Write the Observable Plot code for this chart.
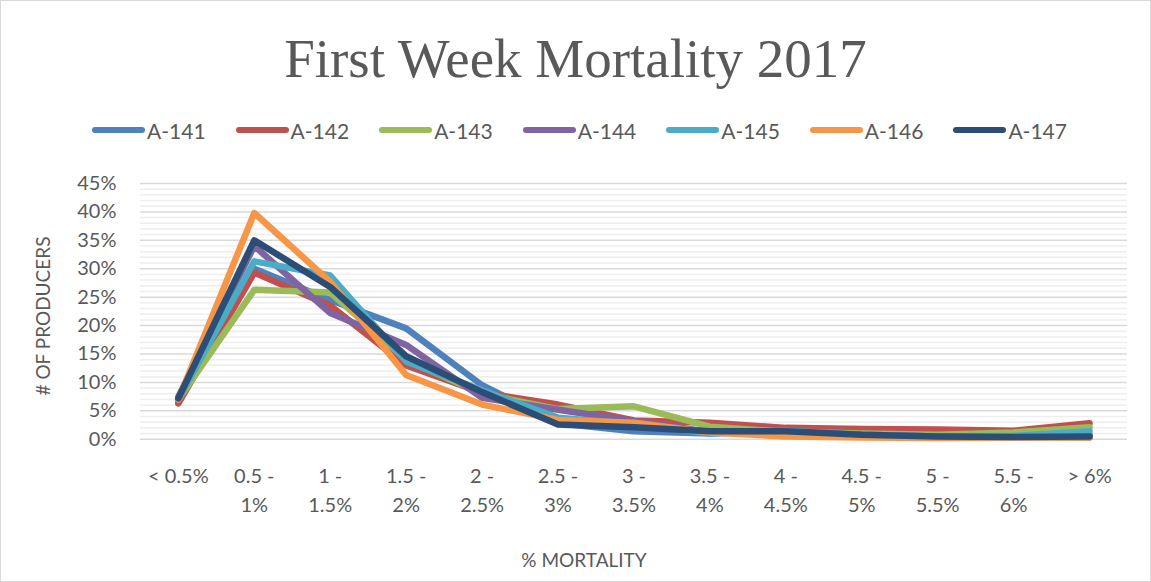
<!DOCTYPE html>
<html>
<head>
<meta charset="utf-8">
<script src="https://cdn.jsdelivr.net/npm/d3@7"></script>
<script src="https://cdn.jsdelivr.net/npm/@observablehq/plot@0.6"></script>
<style>
  html, body { margin: 0; padding: 0; background: #fff; }
  #chart { position: relative; width: 1151px; height: 582px; box-sizing: border-box; border: 1px solid #d9d9d9; overflow: hidden; font-family: Lato, sans-serif; color: #595959; }
  #title { position: absolute; left: -1px; width: 1151px; top: 30px; text-align: center; font-family: "Liberation Serif", serif; font-size: 55px; line-height: 55px; color: #595959; }
  #legend { position: absolute; left: -1px; width: 1159px; top: 117px; height: 24px; display: flex; justify-content: center; align-items: center; gap: 30px; }
  .item { display: flex; align-items: center; gap: 2px; font-size: 21px; color: #595959; }
  .sw { width: 53px; height: 6px; border-radius: 3px; }
  #plot { position: absolute; left: -1px; top: 149px; }
  #ylabel { position: absolute; left: 41px; top: 315px; transform: translate(-50%, -50%) rotate(-90deg); font-size: 19px; white-space: nowrap; }
  #xlabel { position: absolute; left: 583px; top: 558px; transform: translate(-50%, -50%); font-size: 19px; white-space: nowrap; }
</style>
</head>
<body>
<div id="chart">
  <div id="title">First Week Mortality 2017</div>
  <div id="legend"></div>
  <div id="plot"></div>
  <div id="ylabel"># OF PRODUCERS</div>
  <div id="xlabel">% MORTALITY</div>
</div>
<script>
const categories = ["< 0.5%", "0.5 - 1%", "1 - 1.5%", "1.5 - 2%", "2 - 2.5%", "2.5 - 3%", "3 - 3.5%", "3.5 - 4%", "4 - 4.5%", "4.5 - 5%", "5 - 5.5%", "5.5 - 6%", "> 6%"];
const seriesNames = ["A-141", "A-142", "A-143", "A-144", "A-145", "A-146", "A-147"];
const seriesColors = ["#4F81BD", "#C0504D", "#9BBB59", "#8064A2", "#4BACC6", "#F79646", "#2C4D75"];
const yTicks = [0, 5, 10, 15, 20, 25, 30, 35, 40, 45];

const a141 = [6.5, 30.0, 24.5, 19.5, 9.5, 2.8, 1.4, 1.0, 1.5, 0.8, 0.4, 0.4, 0.3];
const a142 = [6.3, 29.3, 23.5, 13.0, 8.2, 6.1, 3.3, 2.9, 2.0, 1.8, 1.7, 1.5, 2.8];
const a143 = [7.0, 26.3, 25.8, 14.0, 8.0, 5.3, 5.8, 2.2, 1.3, 1.0, 0.8, 1.2, 2.1];
const a144 = [7.5, 34.0, 22.2, 16.6, 7.3, 5.2, 3.2, 1.3, 1.2, 0.8, 0.5, 0.5, 0.8];
const a145 = [7.0, 31.3, 28.8, 13.7, 8.6, 3.8, 2.7, 1.0, 1.5, 0.8, 0.5, 0.6, 1.4];
const a146 = [7.0, 39.8, 27.7, 11.3, 6.1, 3.4, 2.9, 1.2, 0.5, 0.3, 0.2, 0.3, 0.3];
const a147 = [7.2, 35.0, 26.8, 14.6, 8.3, 2.6, 2.1, 1.4, 1.4, 0.8, 0.5, 0.4, 0.5];

const seriesValues = [a141, a142, a143, a144, a145, a146, a147];
const rows = [];
seriesNames.forEach((name, i) => {
  seriesValues[i].forEach((v, j) => rows.push({series: name, cat: categories[j], value: v}));
});

// legend
const legend = document.getElementById("legend");
seriesNames.forEach((name, i) => {
  const it = document.createElement("div");
  it.className = "item";
  const sw = document.createElement("span");
  sw.className = "sw";
  sw.style.background = seriesColors[i];
  const tx = document.createElement("span");
  tx.textContent = name;
  it.appendChild(sw); it.appendChild(tx);
  legend.appendChild(it);
});

const minor = d3.range(0, 45.001, 1).filter(d => d % 5 !== 0);

const chart = Plot.plot({
  width: 1151,
  height: 433,
  marginTop: 33,
  marginBottom: 144,
  marginLeft: 140,
  marginRight: 23,
  style: { color: "#595959", fontFamily: "Lato, sans-serif", background: "transparent", overflow: "visible" },
  x: { type: "point", domain: categories, padding: 0.5 },
  y: { domain: [0, 45] },
  color: { domain: seriesNames, range: seriesColors },
  marks: [
    Plot.ruleY(minor, { stroke: "#eeeeee", strokeWidth: 1.5 }),
    Plot.ruleY(yTicks, { stroke: "#d9d9d9", strokeWidth: 1.5 }),
    Plot.axisY({ ticks: yTicks, tickSize: 0, tickPadding: 24, fontSize: 20, tickFormat: d => d + "%", label: null }),
    Plot.axisX({ tickSize: 0, tickPadding: 23, fontSize: 20, lineHeight: 1.45, tickFormat: d => d.replace(" - ", " -\n"), label: null }),
    Plot.line(rows, { x: "cat", y: "value", z: "series", stroke: "series", strokeWidth: 6.5, strokeLinejoin: "round", strokeLinecap: "round" })
  ]
});
document.getElementById("plot").appendChild(chart);
</script>
</body>
</html>
